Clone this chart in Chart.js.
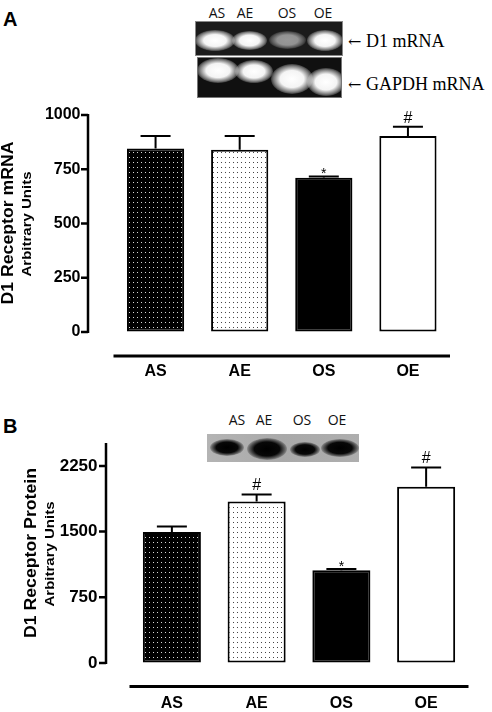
<!DOCTYPE html>
<html>
<head>
<meta charset="utf-8">
<script src="https://cdn.jsdelivr.net/npm/chart.js@4/dist/chart.umd.min.js"></script>
<style>
  html, body { margin: 0; padding: 0; background: #fff; }
  #page { position: relative; width: 492px; height: 712px; overflow: hidden; font-family: "Liberation Sans", Arial, sans-serif; }
  .abs { position: absolute; }
  .panel { font-weight: bold; font-size: 20px; color: #000; }
  .lane { font-family: "Open Sans", "Liberation Sans", sans-serif; font-size: 14px; color: #111; transform: translateX(-50%); }
  .gelLabel { font-family: "Liberation Serif", "Times New Roman", serif; font-size: 18px; color: #000; white-space: nowrap; }
  .arrow { font-family: "DejaVu Serif", serif; font-size: 16px; }
  .gel { overflow: hidden; }
  .band { position: absolute; border-radius: 50%; }
  .wb { background: radial-gradient(ellipse at center, #fff 0%, #f4f4f4 40%, rgba(220,220,220,0.5) 62%, rgba(0,0,0,0) 76%); }
  .db { background: radial-gradient(ellipse at center, #000 0%, #080808 45%, rgba(40,40,40,0.6) 62%, rgba(0,0,0,0) 76%); }
  canvas { position: absolute; left: 0; }
</style>
</head>
<body>
<div id="page">
  <div class="abs panel" style="left:3px; top:8px;">A</div>
  <div class="abs panel" style="left:3px; top:415px;">B</div>

  <!-- RT-PCR gel, panel A -->
  <div class="abs lane" style="left:217px; top:3px;">AS</div>
  <div class="abs lane" style="left:245px; top:3px;">AE</div>
  <div class="abs lane" style="left:287px; top:3px;">OS</div>
  <div class="abs lane" style="left:323px; top:3px;">OE</div>
  <div class="abs gel" style="left:195px; top:21px; width:146px; height:33px; background:#1b1b1b; border:1px solid #888;">
    <div class="band wb" style="left:-1px; top:8px; width:40px; height:21px;"></div>
    <div class="band wb" style="left:36px; top:9px; width:35px; height:19px;"></div>
    <div class="band wb" style="left:73px; top:9px; width:37px; height:18px; opacity:0.55;"></div>
    <div class="band wb" style="left:111px; top:8px; width:36px; height:21px;"></div>
  </div>
  <div class="abs gel" style="left:197px; top:57px; width:143px; height:39px; background:#101010; border:1px solid #777;">
    <div class="band wb" style="left:-1px; top:0px; width:42px; height:25px;"></div>
    <div class="band wb" style="left:37px; top:2px; width:38px; height:23px;"></div>
    <div class="band wb" style="left:73px; top:6px; width:42px; height:30px;"></div>
    <div class="band wb" style="left:109px; top:10px; width:38px; height:28px;"></div>
  </div>
  <div class="abs gelLabel" style="left:348px; top:31px;"><span class="arrow">&larr;</span> D1 mRNA</div>
  <div class="abs gelLabel" style="left:348px; top:74px;"><span class="arrow">&larr;</span> GAPDH mRNA</div>

  <!-- western blot, panel B -->
  <div class="abs lane" style="left:237px; top:410px;">AS</div>
  <div class="abs lane" style="left:264px; top:410px;">AE</div>
  <div class="abs lane" style="left:302px; top:410px;">OS</div>
  <div class="abs lane" style="left:337px; top:410px;">OE</div>
  <div class="abs gel" style="left:207px; top:434px; width:152px; height:28px; background:linear-gradient(90deg, #b4b4b4 0%, #a9a9a9 50%, #aeaeae 100%);">
    <div class="band db" style="left:3px; top:5px; width:34px; height:17px;"></div>
    <div class="band db" style="left:40px; top:4px; width:40px; height:22px;"></div>
    <div class="band db" style="left:83px; top:8px; width:30px; height:15px;"></div>
    <div class="band db" style="left:114px; top:5px; width:38px; height:18px;"></div>
  </div>

  <canvas id="chartA" width="492" height="290" style="top:100px;"></canvas>
  <canvas id="chartB" width="492" height="292" style="top:420px;"></canvas>
</div>

<script>
const groups = ['AS', 'AE', 'OS', 'OE'];

// D1 receptor mRNA (arbitrary units), mean and SEM
const mrnaMean = [846, 840, 711, 903];
const mrnaErr = [57, 63, 6, 43];
const mrnaMarks = ['', '', '*', '#'];
const mrnaTicks = [0, 250, 500, 750, 1000];
const mrnaMax = 1000;

// D1 receptor protein (arbitrary units), mean and SEM
const protMean = [1495, 1843, 1060, 2011];
const protErr = [62, 81, 14, 222];
const protMarks = ['', '#', '*', '#'];
const protTicks = [0, 750, 1500, 2250];
const protMax = 2500;

const FONT = '"Liberation Sans", Arial, sans-serif';

function dotPattern(bg, dot) {
  const c = document.createElement('canvas');
  c.width = 4;
  c.height = 5;
  const g = c.getContext('2d');
  g.fillStyle = bg;
  g.fillRect(0, 0, 4, 5);
  g.fillStyle = dot;
  g.fillRect(1, 2, 1, 1);
  return g.createPattern(c, 'repeat');
}

const fills = [dotPattern('#000', '#d8d8d8'), dotPattern('#fff', '#444'), '#000', '#fff'];

function rotText(ctx, text, cx, cy, font, width) {
  ctx.save();
  ctx.translate(cx, cy);
  ctx.rotate(-Math.PI / 2);
  ctx.font = font;
  const w = ctx.measureText(text).width;
  ctx.scale(width / w, 1);
  ctx.textAlign = 'center';
  ctx.textBaseline = 'middle';
  ctx.fillStyle = '#000';
  ctx.fillText(text, 0, 0);
  ctx.restore();
}

function makePanel(id, cfg) {
  const prism = {
    id: 'prism' + id,
    afterDatasetsDraw(chart) {
      const { ctx, chartArea, scales: { x, y } } = chart;
      const meta = chart.getDatasetMeta(0);
      ctx.save();
      ctx.strokeStyle = '#000';
      ctx.fillStyle = '#000';

      // error bars (upper whisker only) + significance marks
      meta.data.forEach((bar, i) => {
        const top = y.getPixelForValue(cfg.mean[i]);
        const errTop = y.getPixelForValue(cfg.mean[i] + cfg.err[i]);
        ctx.lineWidth = 2;
        ctx.beginPath();
        ctx.moveTo(bar.x, top);
        ctx.lineTo(bar.x, errTop);
        ctx.moveTo(bar.x - 15, errTop);
        ctx.lineTo(bar.x + 15, errTop);
        ctx.stroke();
        const m = cfg.marks[i];
        if (m === '#') {
          ctx.font = '16px ' + FONT;
          ctx.textAlign = 'center';
          ctx.textBaseline = 'alphabetic';
          ctx.fillText('#', bar.x, errTop - 4);
        } else if (m === '*') {
          ctx.font = '14px ' + FONT;
          ctx.textAlign = 'center';
          ctx.textBaseline = 'alphabetic';
          ctx.fillText('*', bar.x, errTop + 2);
        }
      });

      // detached y axis
      const ax = chartArea.left - cfg.gapY;
      ctx.lineWidth = 2.5;
      ctx.beginPath();
      ctx.moveTo(ax, y.getPixelForValue(0) + 1);
      ctx.lineTo(ax, chartArea.top - 1);
      y.ticks.forEach(t => {
        const py = y.getPixelForValue(t.value);
        ctx.moveTo(ax, py);
        ctx.lineTo(ax - 7, py);
      });
      ctx.stroke();

      // detached x axis line
      const by = chartArea.bottom + cfg.gapX;
      ctx.lineWidth = 3;
      ctx.beginPath();
      ctx.moveTo(chartArea.left, by);
      ctx.lineTo(chartArea.right, by);
      ctx.stroke();

      rotText(ctx, cfg.title, cfg.titleX, cfg.titleY, 'bold ' + cfg.titleSize + 'px ' + FONT, cfg.titleW);
      rotText(ctx, 'Arbitrary Units', cfg.subX, cfg.subY, 'bold 12px ' + FONT, 105);
      ctx.restore();
    }
  };

  // invisible tick marks give the label offset without adding top/bottom padding
  const hiddenGrid = tl => ({ display: true, drawOnChartArea: false, drawTicks: true, tickLength: tl, color: 'rgba(0,0,0,0)' });

  return new Chart(document.getElementById(id), {
    type: 'bar',
    data: {
      labels: groups,
      datasets: [{
        data: cfg.mean,
        backgroundColor: fills,
        borderColor: '#000',
        borderWidth: 2,
        borderSkipped: false,
        categoryPercentage: 1,
        barPercentage: cfg.barPct,
      }],
    },
    options: {
      responsive: false,
      animation: false,
      events: [],
      layout: { padding: cfg.padding },
      plugins: { legend: { display: false }, tooltip: { enabled: false } },
      scales: {
        x: {
          grid: hiddenGrid(cfg.xPad),
          border: { display: false },
          ticks: { color: '#000', font: { family: FONT, size: 16, weight: 'bold' }, padding: 0 },
          afterFit: s => { s.height = cfg.xHeight; },
        },
        y: {
          min: 0,
          max: cfg.max,
          grid: hiddenGrid(cfg.yPad),
          border: { display: false },
          ticks: {
            color: '#000',
            font: { family: FONT, size: cfg.tickSize, weight: 'bold' },
            padding: 0,
            callback: v => String(v),
          },
          afterBuildTicks: s => { s.ticks = cfg.ticks.map(v => ({ value: v })); },
          afterFit: s => { s.width = cfg.yWidth; },
        },
      },
    },
    plugins: [prism],
  });
}

makePanel('chartA', {
  mean: mrnaMean, err: mrnaErr, marks: mrnaMarks, ticks: mrnaTicks, max: mrnaMax,
  padding: { top: 15, right: 42, bottom: 0, left: 0 },
  yWidth: 113.5, xHeight: 58, xPad: 30, yPad: 33, tickSize: 16,
  gapY: 25.5, gapX: 24, barPct: 0.68,
  title: 'D1 Receptor mRNA', titleX: 9, titleY: 123, titleSize: 16, titleW: 163,
  subX: 28, subY: 124,
});

makePanel('chartB', {
  mean: protMean, err: protErr, marks: protMarks, ticks: protTicks, max: protMax,
  padding: { top: 24, right: 23.5, bottom: 0, left: 0 },
  yWidth: 129.5, xHeight: 49, xPad: 31, yPad: 32, tickSize: 17,
  gapY: 23.5, gapX: 23.5, barPct: 0.685,
  title: 'D1 Receptor Protein', titleX: 31, titleY: 133, titleSize: 17, titleW: 170,
  subX: 51, subY: 134,
});
</script>
</body>
</html>
